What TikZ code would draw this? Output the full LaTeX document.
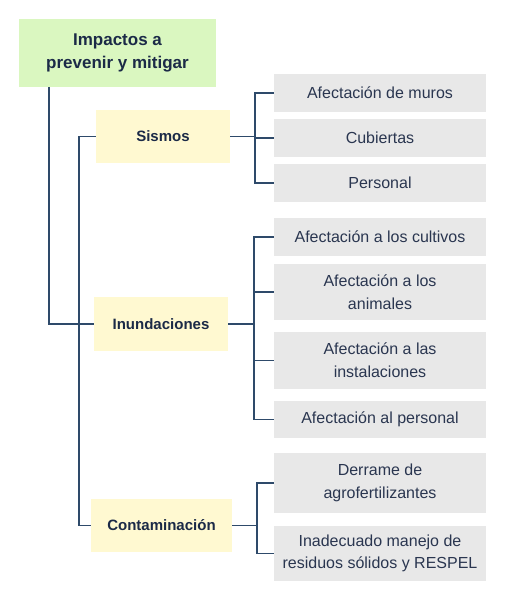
\documentclass[tikz,border=0pt]{standalone}
\usepackage{fontspec}
\setmainfont{Liberation Sans}
\usepackage{tikz}
\usetikzlibrary{positioning}
\definecolor{rootgreen}{HTML}{DAF7C0}
\definecolor{catyellow}{HTML}{FFF9D1}
\definecolor{leafgray}{HTML}{E8E8E8}
\definecolor{linkblue}{HTML}{2E4A6A}
\definecolor{headink}{HTML}{1B2A47}
\definecolor{leafink}{HTML}{2A3650}

\begin{document}
\begin{tikzpicture}[x=1pt,y=-1pt,every node/.style={align=center,inner sep=0pt},root/.style={fill=rootgreen,text=headink,font=\fontsize{17}{22.7}\selectfont\bfseries,minimum width=197pt,minimum height=68pt},cat/.style={fill=catyellow,text=headink,font=\fontsize{15}{18}\selectfont\bfseries,minimum width=134pt,minimum height=53pt},leaf/.style={fill=leafgray,text=leafink,font=\fontsize{16}{22.7}\selectfont,minimum width=212pt,minimum height=38pt},link/.style={linkblue,line width=1.6pt}]
\useasboundingbox (0,0) rectangle (505,608);
\node[root] (root) at (117.5,53) {Impactos a\\prevenir y mitigar};
\node[cat] (sismos) at (163,136.5) {Sismos};
\node[cat,minimum height=54pt] (inund) at (161,324) {Inundaciones};
\node[cat,minimum width=141pt] (conta) at (161.5,525.5) {Contaminación};
\node[leaf] (muros) at (380,93) {Afectación de muros};
\node[leaf] (cubiertas) at (380,138) {Cubiertas};
\node[leaf] (personal) at (380,183) {Personal};
\node[leaf] (cultivos) at (380,237) {Afectación a los cultivos};
\node[leaf,minimum height=56pt] (animales) at (380,292) {Afectación a los\\animales};
\node[leaf,minimum height=57pt] (instal) at (380,360.5) {Afectación a las\\instalaciones};
\node[leaf,minimum height=37pt] (alpers) at (380,419.5) {Afectación al personal};
\node[leaf,minimum height=60pt] (derrame) at (380,483) {Derrame de\\agrofertilizantes};
\node[leaf,minimum height=55pt] (residuos) at (380,553.5) {Inadecuado manejo de\\residuos sólidos y RESPEL};
% trunks on the left
\coordinate (trunk) at (49,0);
\draw[link] (root.south -| trunk) |- (inund);
\draw[link] (sismos.west) -- ++(-17,0) |- (conta);
% brackets to the leaves
\coordinate (sbus) at (255,0);
\coordinate (ibus) at (254,0);
\coordinate (cbus) at (257,0);
\draw[link] (sismos.east) -- (sismos.east -| sbus);
\draw[link] (muros.west) -- (muros.west -| sbus) -- (personal.west -| sbus) -- (personal.west);
\draw[link] (cubiertas.west) -- (cubiertas.west -| sbus);
\draw[link] (inund.east) -- (inund.east -| ibus);
\draw[link] (cultivos.west) -- (cultivos.west -| ibus) -- (alpers.west -| ibus) -- (alpers.west);
\draw[link] (animales.west) -- (animales.west -| ibus);
\draw[link] (instal.west) -- (instal.west -| ibus);
\draw[link] (conta.east) -- (conta.east -| cbus);
\draw[link] (derrame.west) -- (derrame.west -| cbus) -- (residuos.west -| cbus) -- (residuos.west);
\end{tikzpicture}
\end{document}
